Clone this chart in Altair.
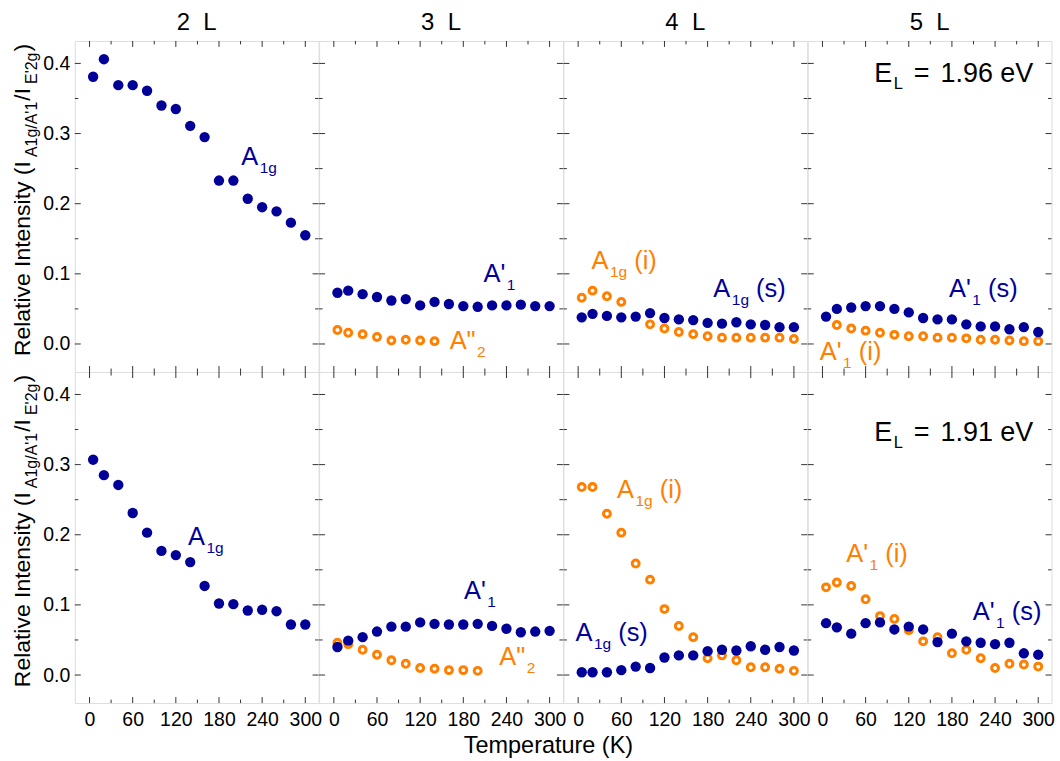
import altair as alt
import pandas as pd

FONT = "Liberation Sans"
BLUE = "#000099"
ORANGE = "#FF8000"
FRAME = "#333333"
NB = "\u00a0"

# ---------------- data ----------------
T16 = [5, 20, 40, 60, 80, 100, 120, 140, 160, 180, 200, 220, 240, 260, 280, 300]
layers = ["2" + NB + NB + "L", "3" + NB + NB + "L", "4" + NB + NB + "L", "5" + NB + NB + "L"]

# row 1 : E_L = 1.96 eV
r1_2L_s = [0.381, 0.406, 0.369, 0.369, 0.361, 0.340, 0.335, 0.311, 0.295, 0.233, 0.233, 0.207, 0.195, 0.189, 0.173, 0.155]
r1_3L_s = [0.073, 0.076, 0.071, 0.067, 0.062, 0.064, 0.055, 0.060, 0.057, 0.054, 0.053, 0.055, 0.055, 0.056, 0.054, 0.054]
r1_3L_i_T = [5, 20, 40, 60, 80, 100, 120, 140]
r1_3L_i = [0.020, 0.016, 0.014, 0.010, 0.005, 0.006, 0.005, 0.004]
r1_4L_s = [0.038, 0.043, 0.040, 0.038, 0.039, 0.044, 0.037, 0.035, 0.034, 0.030, 0.029, 0.031, 0.028, 0.027, 0.024, 0.024]
r1_4L_i_T = [5, 20, 40, 60, 100, 120, 140, 160, 180, 200, 220, 240, 260, 280, 300]
r1_4L_i = [0.066, 0.076, 0.068, 0.060, 0.028, 0.022, 0.017, 0.014, 0.011, 0.009, 0.009, 0.009, 0.009, 0.009, 0.007]
r1_5L_s = [0.039, 0.050, 0.052, 0.054, 0.054, 0.050, 0.045, 0.037, 0.035, 0.035, 0.028, 0.025, 0.025, 0.021, 0.024, 0.017]
r1_5L_i_T = [20, 40, 60, 80, 100, 120, 140, 160, 180, 200, 220, 240, 260, 280, 300]
r1_5L_i = [0.027, 0.022, 0.019, 0.016, 0.013, 0.011, 0.011, 0.009, 0.009, 0.008, 0.006, 0.006, 0.005, 0.004, 0.004]

# row 2 : E_L = 1.91 eV
r2_2L_s = [0.307, 0.285, 0.271, 0.231, 0.203, 0.177, 0.171, 0.161, 0.127, 0.102, 0.101, 0.092, 0.093, 0.091, 0.072, 0.072]
r2_3L_s = [0.040, 0.049, 0.054, 0.062, 0.069, 0.069, 0.075, 0.073, 0.072, 0.072, 0.073, 0.070, 0.066, 0.061, 0.062, 0.063]
r2_3L_i_T = [5, 20, 40, 60, 80, 100, 120, 140, 160, 180, 200]
r2_3L_i = [0.046, 0.044, 0.036, 0.029, 0.021, 0.016, 0.010, 0.009, 0.007, 0.007, 0.006]
r2_4L_s = [0.004, 0.004, 0.004, 0.007, 0.012, 0.010, 0.025, 0.028, 0.028, 0.034, 0.036, 0.035, 0.041, 0.036, 0.040, 0.035]
r2_4L_i = [0.268, 0.268, 0.230, 0.203, 0.159, 0.136, 0.094, 0.070, 0.054, 0.024, 0.028, 0.021, 0.011, 0.011, 0.009, 0.006]
r2_5L_s = [0.074, 0.068, 0.059, 0.074, 0.075, 0.065, 0.069, 0.065, 0.047, 0.059, 0.048, 0.046, 0.044, 0.046, 0.031, 0.029]
r2_5L_i = [0.125, 0.132, 0.127, 0.108, 0.084, 0.080, 0.064, 0.048, 0.054, 0.031, 0.036, 0.024, 0.010, 0.016, 0.015, 0.012]

series = {
    (0, 0): (T16, r1_2L_s, None, None),
    (0, 1): (T16, r1_3L_s, r1_3L_i_T, r1_3L_i),
    (0, 2): (T16, r1_4L_s, r1_4L_i_T, r1_4L_i),
    (0, 3): (T16, r1_5L_s, r1_5L_i_T, r1_5L_i),
    (1, 0): (T16, r2_2L_s, None, None),
    (1, 1): (T16, r2_3L_s, r2_3L_i_T, r2_3L_i),
    (1, 2): (T16, r2_4L_s, T16, r2_4L_i),
    (1, 3): (T16, r2_5L_s, T16, r2_5L_i),
}

# tick values
x_major = [0, 60, 120, 180, 240, 300]
x_minor = [30, 90, 150, 210, 270]
y_major = [0.0, 0.1, 0.2, 0.3, 0.4]
y_minor = [0.05, 0.15, 0.25, 0.35]

# annotations: parts are (text, kind) with kind m = normal, s = subscript, g = normal after a gap
annotations = {
    (0, 0): [([("A", "m"), ("1g", "s")], 211, 0.255, BLUE)],
    (0, 1): [([("A'", "m"), ("1", "s")], 208, 0.089, BLUE),
             ([('A"', "m"), ("2", "s")], 161, -0.007, ORANGE)],
    (0, 2): [([("A", "m"), ("1g", "s"), ("(i)", "g")], 18.5, 0.107, ORANGE),
             ([("A", "m"), ("1g", "s"), ("(s)", "g")], 188, 0.067, BLUE)],
    (0, 3): [([("A'", "m"), ("1", "s"), ("(s)", "g")], 176, 0.067, BLUE),
             ([("A'", "m"), ("1", "s"), ("(i)", "g")], -3.7, -0.023, ORANGE)],
    (1, 0): [([("A", "m"), ("1g", "s")], 137, 0.186, BLUE)],
    (1, 1): [([("A'", "m"), ("1", "s")], 181, 0.109, BLUE),
             ([('A"', "m"), ("2", "s")], 230, 0.014, ORANGE)],
    (1, 2): [([("A", "m"), ("1g", "s"), ("(i)", "g")], 54, 0.252, ORANGE),
             ([("A", "m"), ("1g", "s"), ("(s)", "g")], -3.7, 0.048, BLUE)],
    (1, 3): [([("A'", "m"), ("1", "s"), ("(i)", "g")], 33, 0.161, ORANGE),
             ([("A'", "m"), ("1", "s"), ("(s)", "g")], 209, 0.079, BLUE)],
}
energy = {(0, 3): ("1.96" + NB + "eV", 72, 0.373), (1, 3): ("1.91" + NB + "eV", 72, 0.334)}

# ---------------- layout ----------------
W = 244.5
H = 332
XDOM = [-20.5, 318.5]
YDOM = [-0.04, 0.432]
MAIN, SUB, SUBDY = 25.5, 15.5, 8

ARIAL = {' ': 278, NB: 278, '(': 333, ')': 333, '/': 278, "'": 191, '"': 355, '.': 278, '=': 584,
         'A': 667, 'E': 667, 'I': 278, 'L': 556, 'R': 722, 'T': 611, 'K': 667, 'V': 667,
         'a': 556, 'e': 556, 'g': 556, 'i': 222, 'l': 222, 'n': 556, 's': 500, 't': 278,
         'v': 500, 'y': 500, 'm': 833, 'p': 556, 'r': 333, 'u': 556}


def tw(s, size):
    return sum(ARIAL.get(c, 556) for c in s) * size / 1000.0


def xs():
    return alt.Scale(domain=XDOM, nice=False, zero=False)


def ys():
    return alt.Scale(domain=YDOM, nice=False, zero=False)


def make_axes(r, c):
    yaxis = None
    if c == 0:
        yaxis = alt.Axis(values=y_major, format=".1f", ticks=False, domain=False, grid=False,
                         labelFontSize=19.5, labelFont=FONT, labelColor="black", labelPadding=5, title=None)
    xaxis = None
    if r == 1:
        xaxis = alt.Axis(values=x_major, format="d", ticks=False, domain=False, grid=False,
                         labelFontSize=19.5, labelFont=FONT, labelColor="black", labelPadding=7, title=None)
    return xaxis, yaxis


def panel(r, c):
    xaxis, yaxis = make_axes(r, c)

    def X(f):
        return alt.X(f, scale=xs(), axis=xaxis)

    def Y(f):
        return alt.Y(f, scale=ys(), axis=yaxis)

    lay = []
    # inward ticks on all four sides
    for vals, L in ((y_major, 6), (y_minor, 3.5)):
        d = pd.DataFrame({"v": vals})
        base = alt.Chart(d).mark_rule(color=FRAME, strokeWidth=1)
        lay.append(base.encode(y=Y("v:Q"), x=alt.value(0), x2=alt.value(L)))
        lay.append(base.encode(y=Y("v:Q"), x=alt.value(W), x2=alt.value(W - L)))
    for vals, L in ((x_major, 6), (x_minor, 3.5)):
        d = pd.DataFrame({"T": vals})
        base = alt.Chart(d).mark_rule(color=FRAME, strokeWidth=1)
        lay.append(base.encode(x=X("T:Q"), y=alt.value(H), y2=alt.value(H - L)))
        lay.append(base.encode(x=X("T:Q"), y=alt.value(0), y2=alt.value(L)))

    T_s, v_s, T_i, v_i = series[(r, c)]
    if T_i is not None:
        d_i = pd.DataFrame({"T": T_i, "v": v_i})
        lay.append(alt.Chart(d_i).mark_point(shape="circle", filled=False, size=48, strokeWidth=3,
                                             color=ORANGE, opacity=1)
                   .encode(x=X("T:Q"), y=Y("v:Q")))
    d_s = pd.DataFrame({"T": T_s, "v": v_s})
    lay.append(alt.Chart(d_s).mark_circle(size=108, color=BLUE, opacity=1)
               .encode(x=X("T:Q"), y=Y("v:Q")))

    def label_layers(parts, T, v, color, main=MAIN, sub=SUB, subdy=SUBDY, gap=None):
        out = []
        dx = 0.0
        for text, kind in parts:
            size = sub if kind == "s" else main
            dy = subdy if kind == "s" else 0
            if kind == "s":
                dx += 1.5
            if kind == "g":
                dx += gap if gap is not None else tw(" ", main)
            d = pd.DataFrame({"T": [T], "v": [v], "t": [text]})
            out.append(alt.Chart(d).mark_text(align="left", baseline="alphabetic", dx=dx, dy=dy,
                                              fontSize=size, font=FONT, color=color)
                       .encode(x=X("T:Q"), y=Y("v:Q"), text="t:N"))
            dx += tw(text, size)
        return out

    for parts, T, v, color in annotations[(r, c)]:
        lay += label_layers(parts, T, v, color)
    if (r, c) in energy:
        val, T, v = energy[(r, c)]
        lay += label_layers([("E", "m"), ("L", "s"), ("=", "g"), (val, "g")], T, v, "black",
                            main=27, sub=16.5, subdy=7, gap=11)

    def pix_text(text, x, y, size, angle=0, align="left", color="black"):
        d = pd.DataFrame({"t": [text]})
        kw = dict(align=align, baseline="alphabetic", fontSize=size, font=FONT, color=color)
        if angle:
            kw["angle"] = angle
        return alt.Chart(d).mark_text(**kw).encode(x=alt.value(x), y=alt.value(y), text="t:N")

    if r == 0:
        lay.append(pix_text(layers[c], W / 2, -10.5, 24, align="center"))
    if c == 0:
        parts = [("Relative Intensity (I", "m", 0), ("A1g/A'1", "s", 4), ("/I", "m", 1),
                 ("E'2g", "s", 4), (")", "m", 1)]
        m, s = 23, 16
        y = 316.0
        for text, kind, gap in parts:
            size = m if kind == "m" else s
            xb = -44.5 if kind == "m" else -37.5
            y -= gap
            lay.append(pix_text(text, xb, y, size, angle=270))
            y -= tw(text, size)
    if r == 1 and c == 1:
        lay.append(pix_text("Temperature (K)", 230, H + 50, 23.5, align="center"))
    return alt.layer(*lay).properties(width=W, height=H)


panels = [panel(r, c) for r in range(2) for c in range(4)]

chart = alt.concat(*panels, columns=4, spacing=0, bounds="flush").properties(
    padding={"left": 12, "top": 10, "right": 5, "bottom": 5}
).configure_view(stroke=FRAME, strokeWidth=1).configure(background="white")

chart.save("out.html", embed_options={"renderer": "svg", "actions": False})
